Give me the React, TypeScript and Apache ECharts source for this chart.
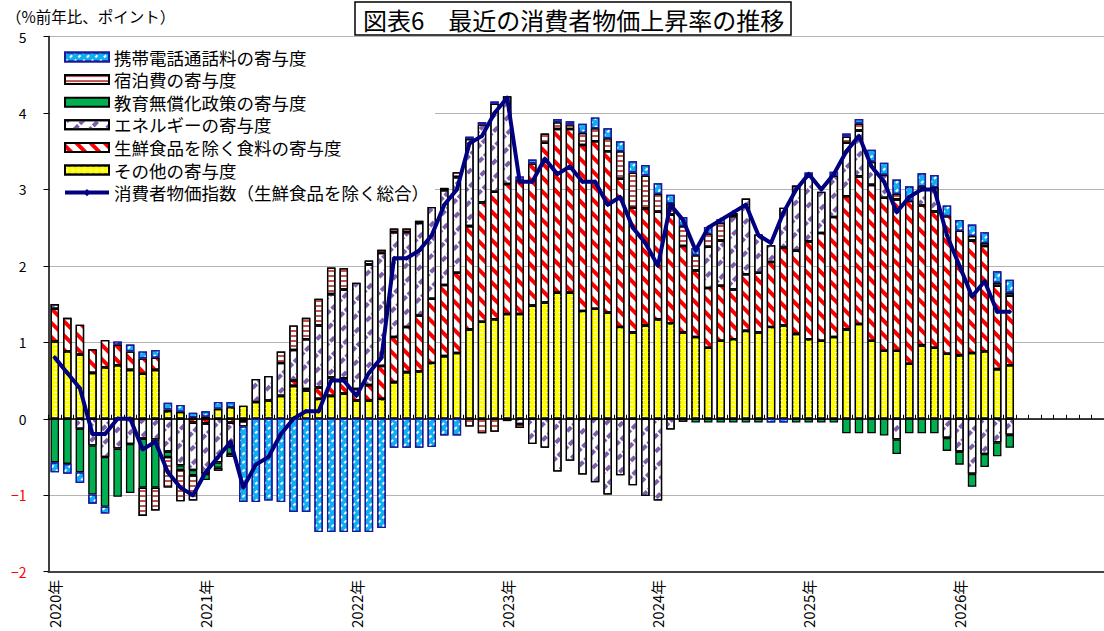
import React, { useEffect, useRef } from "react";
import * as echarts from "echarts";

const FONT = '"Noto Sans CJK JP", "Noto Sans", sans-serif';

const years = [2020, 2021, 2022, 2023, 2024, 2025, 2026];
const monthCategories: string[] = years.flatMap((y) =>
  Array.from({ length: 12 }, (_, i) => `${y}年${i + 1}月`)
);

const yTicks = { min: -2, max: 5, interval: 1 };

// 2020/1 - 2026/5 (77 months)
const otherContrib = [
  1.01, 0.88, 0.84, 0.6, 0.67, 0.7, 0.64, 0.59, 0.64, 0.1, 0.09, 0.02,
  0.03, 0.13, 0.15, 0.17, 0.22, 0.24, 0.3, 0.43, 0.37, 0.26, 0.3, 0.33,
  0.24, 0.24, 0.26, 0.48, 0.61, 0.62, 0.73, 0.82, 0.86, 1.17, 1.27, 1.3,
  1.37, 1.37, 1.48, 1.52, 1.65, 1.65, 1.41, 1.44, 1.39, 1.2, 1.13, 1.22,
  1.3, 1.25, 1.13, 1.07, 0.93, 1.02, 1.04, 1.15, 1.13, 1.2, 1.22, 1.11,
  1.04, 1.02, 1.07, 1.17, 1.24, 1.02, 0.89, 0.89, 0.72, 0.96, 0.93, 0.85,
  0.83, 0.86, 0.88, 0.65, 0.7,
];
const foodContrib = [
  0.43, 0.44, 0.39, 0.31, 0.36, 0.27, 0.24, 0.2, 0.16, 0.02, 0, -0.05,
  -0.06, 0, -0.05, 0, 0, 0, 0, 0.07, 0.02, 0.15, 0.24, 0.2,
  0.15, 0.2, 0.43, 0.59, 0.59, 0.73, 0.84, 0.93, 1.05, 1.35, 1.56, 1.67,
  1.7, 1.75, 1.86, 2.09, 2.14, 2.14, 2.17, 2.19, 2.11, 1.94, 1.63, 1.53,
  1.41, 1.42, 1.13, 0.87, 0.78, 0.72, 0.65, 0.74, 0.78, 0.85, 1.02, 1.09,
  1.28, 1.41, 1.57, 1.74, 1.93, 2.04, 2.0, 1.98, 2.13, 1.83, 1.78, 1.8,
  1.63, 1.47, 1.38, 1.09, 0.91,
];
const energyContrib = [
  0.06, 0, -0.13, -0.35, -0.5, -0.39, -0.33, -0.26, -0.27, -0.43, -0.61, -0.62,
  -0.66, -0.57, -0.32, -0.03, 0.3, 0.32, 0.43, 0.4, 0.65, 0.81, 1.09, 1.16,
  1.39, 1.58, 1.48, 1.37, 1.24, 1.21, 1.2, 1.24, 1.25, 1.14, 1.02, 1.15,
  1.15, -0.07, -0.33, -0.38, -0.69, -0.55, -0.73, -0.83, -0.99, -0.74, -0.87, -1.01,
  -1.07, -0.14, -0.04, 0, 0.54, 0.59, 0.96, 0.99, 0.5, 0.22, 0.52, 0.85,
  0.86, 0.54, 0.54, 0.7, 0.6, 0.3, 0.3, -0.27, 0, 0.25, 0.32, -0.25,
  -0.43, -0.72, -0.46, -0.31, -0.21,
];
const educationContrib = [
  -0.57, -0.59, -0.57, -0.64, -0.65, -0.63, -0.64, -0.64, -0.63, -0.07, -0.06, -0.07,
  -0.08, -0.07, -0.09, 0, 0, 0, 0, 0, 0, 0, 0, 0,
  0, 0, 0, 0, 0, 0, 0, 0, 0, 0, 0, 0,
  0, 0, 0, 0, 0, 0, 0, 0, 0, 0, 0, 0,
  0, 0, 0, -0.05, -0.05, -0.05, -0.05, -0.05, -0.05, 0, 0, -0.05,
  -0.05, -0.05, -0.05, -0.19, -0.19, -0.19, -0.22, -0.19, -0.19, -0.19, -0.19, -0.17,
  -0.17, -0.17, -0.17, -0.18, -0.17,
];
const lodgingContrib = [
  0, 0, 0, 0, 0, 0, 0, -0.37, -0.3, -0.4, -0.41, -0.33,
  0, -0.04, -0.04, -0.07, 0, 0, 0.15, 0.32, 0.28, 0.35, 0.35, 0.28,
  0, 0.05, 0.04, 0.05, 0.05, 0.03, 0, 0.03, 0.065, -0.1, -0.19, -0.17,
  -0.03, -0.05, 0, 0.12, 0.09, 0.06, 0.16, 0.17, 0.17, 0.36, 0.46, 0.43,
  0.23, 0.15, 0.26, 0.2, 0.17, 0.23, 0.04, 0, 0, 0, 0, 0,
  0, 0, 0, 0.08, 0.09, 0, 0, 0.07, 0, 0, 0, 0,
  0, 0.06, 0.04, 0.04, 0.04,
];
const mobileContrib = [
  -0.13, -0.13, -0.14, -0.12, -0.09, 0.04, 0.09, 0.09, 0.1, 0.09, 0.09, 0.06,
  0.07, 0.09, 0.07, -0.99, -1.09, -1.07, -1.09, -1.22, -1.22, -1.48, -1.48, -1.48,
  -1.48, -1.48, -1.43, -0.38, -0.38, -0.38, -0.37, -0.22, -0.22, 0.03, 0.03, 0.03,
  0, 0.05, 0.05, 0, 0.04, 0.04, 0.12, 0.14, 0.13, 0.13, 0.15, 0.14,
  0.14, 0.11, 0.12, 0.09, 0.09, 0.05, 0, 0, 0, -0.05, -0.05, 0,
  0.04, 0, 0.05, 0.04, 0.06, 0.16, 0.16, 0.19, 0.19, 0.17, 0.16, 0.14,
  0.14, 0.15, 0.14, 0.15, 0.17,
];
const coreCPI = [
  0.8, 0.6, 0.4, -0.2, -0.2, 0.0, 0.0, -0.4, -0.3, -0.7, -0.9, -1.0,
  -0.7, -0.5, -0.3, -0.9, -0.6, -0.5, -0.2, 0.0, 0.1, 0.1, 0.5, 0.5,
  0.3, 0.6, 0.8, 2.1, 2.1, 2.2, 2.4, 2.8, 3.0, 3.6, 3.7, 4.0,
  4.2, 3.1, 3.1, 3.4, 3.2, 3.3, 3.1, 3.1, 2.8, 2.9, 2.5, 2.3,
  2.0, 2.8, 2.6, 2.2, 2.5, 2.6, 2.7, 2.8, 2.4, 2.3, 2.7, 3.0,
  3.2, 3.0, 3.2, 3.5, 3.7, 3.3, 3.1, 2.7, 2.9, 3.0, 3.0, 2.4,
  2.0, 1.6, 1.8, 1.4, 1.4,
];

const NAME_MOBILE = "携帯電話通話料の寄与度";
const NAME_LODGING = "宿泊費の寄与度";
const NAME_EDU = "教育無償化政策の寄与度";
const NAME_ENERGY = "エネルギーの寄与度";
const NAME_FOOD = "生鮮食品を除く食料の寄与度";
const NAME_OTHER = "その他の寄与度";
const NAME_CPI = "消費者物価指数（生鮮食品を除く総合）";

function barSeries(name: string, data: number[], color: string, borderColor: string, decal?: any) {
  return {
    name,
    type: "bar",
    stack: "cpi",
    xAxisIndex: 0,
    yAxisIndex: 0,
    barWidth: 8.5,
    data: data.map((v) => (v === 0 ? "-" : v)),
    itemStyle: { color, borderColor, borderWidth: 1.3, decal },
    emphasis: { disabled: true },
    z: 3,
  };
}

export default function App() {
  const ref = useRef<HTMLDivElement>(null);
  useEffect(() => {
    const chart = echarts.init(ref.current!, null, { renderer: "svg" });
    const option: any = {
      animation: false,
      textStyle: { fontFamily: FONT },
      grid: { left: 48.5, top: 36.5, width: 1066, height: 537, containLabel: false },
      legend: {
        orient: "vertical",
        left: 50,
        top: 45,
        padding: [2, 6, 2, 13],
        backgroundColor: "#ffffff",
        itemWidth: 44,
        itemHeight: 9,
        itemGap: 2.6,
        selectedMode: false,
        textStyle: { fontSize: 17.5, color: "#000", lineHeight: 20, fontFamily: FONT },
        data: [
          { name: NAME_MOBILE, icon: "rect" },
          { name: NAME_LODGING, icon: "rect" },
          { name: NAME_EDU, icon: "rect" },
          { name: NAME_ENERGY, icon: "rect" },
          { name: NAME_FOOD, icon: "rect" },
          { name: NAME_OTHER, icon: "rect" },
          { name: NAME_CPI, lineStyle: { width: 4, color: "#000080" } },
        ],
        z: 1,
      },
      xAxis: [
        {
          type: "category",
          data: monthCategories,
          position: "bottom",
          boundaryGap: true,
          axisLine: { show: true, onZero: true, lineStyle: { color: "#000", width: 1.5 } },
          axisTick: { show: true, inside: true, length: 4, interval: 0, lineStyle: { color: "#000", width: 1 } },
          axisLabel: { show: false },
          splitLine: { show: false },
          z: 2,
        },
        {
          type: "category",
          data: monthCategories,
          position: "bottom",
          boundaryGap: true,
          axisLine: { show: true, onZero: false, lineStyle: { color: "#444", width: 2, type: [2, 1] } },
          axisTick: { show: false },
          axisLabel: {
            show: true,
            interval: 11,
            rotate: 90,
            margin: 8,
            fontSize: 15,
            color: "#000",
            fontFamily: FONT,
            formatter: (v: string) => v.slice(0, 5),
          },
          splitLine: { show: false },
        },
      ],
      yAxis: {
        type: "value",
        min: yTicks.min,
        max: yTicks.max,
        interval: yTicks.interval,
        axisLine: { show: true, lineStyle: { color: "#000", width: 1.5 } },
        axisTick: { show: true, inside: false, length: 5, lineStyle: { color: "#000" } },
        axisLabel: {
          margin: 22,
          fontSize: 14,
          color: "#000",
          fontFamily: FONT,
          formatter: (v: number) => (v < 0 ? `{n|−${-v}}` : `${v}`),
          rich: { n: { color: "#ff0000", fontSize: 14, fontFamily: FONT } },
        },
        splitLine: { show: true, lineStyle: { color: "#666", width: 1, type: "dotted" } },
      },
      graphic: [
        {
          type: "rect",
          shape: { x: 355, y: 2, width: 436, height: 33 },
          style: { fill: "#fff", stroke: "#000", lineWidth: 1.5 },
          z: 10,
        },
        {
          type: "text",
          x: 363,
          y: 19,
          style: { text: "図表6　最近の消費者物価上昇率の推移", fontSize: 24, fill: "#000", fontFamily: FONT, verticalAlign: "middle" },
          z: 11,
        },
        {
          type: "text",
          x: 6,
          y: 16,
          style: { text: "（%前年比、ポイント）", fontSize: 15.5, fill: "#000", fontFamily: FONT, verticalAlign: "middle" },
          z: 11,
        },
      ],
      series: [
        barSeries(NAME_OTHER, otherContrib, "#ffff00", "#000", {
          color: "#ffffff", symbol: "rect", symbolSize: 1, dashArrayX: [3, 3], dashArrayY: [1, 3], rotation: 0,
        }),
        barSeries(NAME_FOOD, foodContrib, "#ffffff", "#000", {
          color: "#ff0000", symbol: "rect", symbolSize: 1, dashArrayX: [1, 0], dashArrayY: [3.5, 5.5], rotation: Math.PI / 4,
        }),
        barSeries(NAME_ENERGY, energyContrib, "#ffffff", "#000", {
          color: "#7c5fa8", symbol: "rect", symbolSize: 1, dashArrayX: [6, 2], dashArrayY: [3.5, 6.5], rotation: -Math.PI / 4,
        }),
        barSeries(NAME_EDU, educationContrib, "#00b050", "#000"),
        barSeries(NAME_LODGING, lodgingContrib, "#ffffff", "#000", {
          color: "#c0504d", symbol: "rect", symbolSize: 1, dashArrayX: [1, 0], dashArrayY: [2, 3], rotation: 0,
        }),
        barSeries(NAME_MOBILE, mobileContrib, "#10b0f0", "#1a1a9a", {
          color: "#ffffff", symbol: "rect", symbolSize: 1, dashArrayX: [3, 3], dashArrayY: [2, 4], rotation: -Math.PI / 4,
        }),
        {
          name: NAME_CPI,
          type: "line",
          xAxisIndex: 0,
          yAxisIndex: 0,
          data: coreCPI,
          symbol: "diamond",
          symbolSize: 5,
          showSymbol: true,
          lineStyle: { color: "#000080", width: 4 },
          itemStyle: { color: "#000080" },
          emphasis: { disabled: true },
          z: 5,
        },
      ],
    };
    chart.setOption(option);
    return () => chart.dispose();
  }, []);
  return (
    <div
      ref={ref}
      style={{ position: "absolute", left: 0, top: 0, width: 1104, height: 631, background: "#fff" }}
    />
  );
}
